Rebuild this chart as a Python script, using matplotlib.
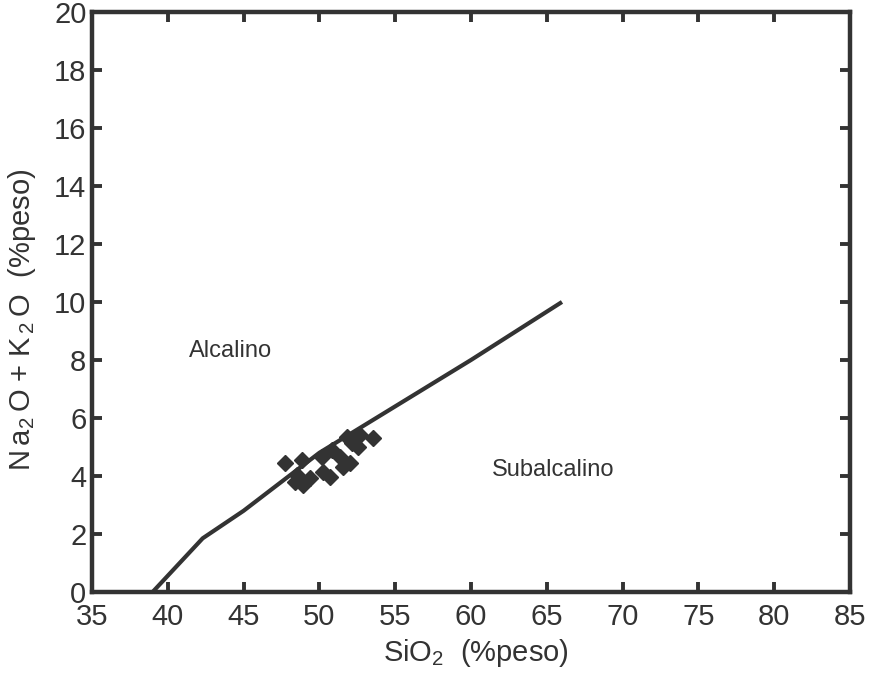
import matplotlib.pyplot as plt

plt.rcParams['font.family'] = ['Liberation Sans', 'DejaVu Sans']
plt.rcParams['mathtext.fontset'] = 'custom'
plt.rcParams['mathtext.rm'] = 'Liberation Sans'

# Irvine & Baragar alkaline / subalkaline divide
divide_sio2 = [39.0, 42.3, 45.0, 48.0, 50.0, 55.0, 60.0, 66.0]
divide_alk = [0.0, 1.85, 2.8, 4.0, 4.8, 6.4, 8.0, 10.0]

# sample analyses
sio2 = [47.73, 48.83, 48.50, 48.94, 48.39, 49.38, 50.15, 50.26, 50.70,
        50.81, 51.36, 51.80, 52.13, 52.02, 52.55, 52.68, 53.54, 51.56]
alk = [4.44, 4.55, 4.03, 3.69, 3.80, 3.93, 4.67, 4.15, 3.98,
       4.90, 4.67, 5.36, 5.13, 4.45, 5.01, 5.41, 5.31, 4.31]

dark = '#333333'

fig = plt.figure(figsize=(8.72, 6.73), dpi=100)
ax = fig.add_axes([0.1055, 0.1204, 0.8693, 0.8618])

ax.plot(divide_sio2, divide_alk, color=dark, lw=3.0, solid_capstyle='butt')
ax.plot(sio2, alk, linestyle='none', marker='D', markersize=8.5,
        color=dark, markeredgecolor=dark)

ax.text(41.4, 8.3, 'Alcalino', fontsize=17, color=dark, va='center', ha='left')
ax.text(61.4, 4.2, 'Subalcalino', fontsize=17, color=dark, va='center', ha='left')

ax.set_xlim(35, 85)
ax.set_ylim(0, 20)
ax.set_xticks(range(35, 90, 5))
ax.set_yticks(range(0, 22, 2))

ax.tick_params(direction='in', length=7, width=2.8, top=True, right=True,
               labelsize=21, colors=dark)
ax.tick_params(axis='x', pad=8)
ax.tick_params(axis='y', pad=4)
for s in ax.spines.values():
    s.set_linewidth(3.2)
    s.set_color(dark)
    s.set_capstyle('projecting')

ax.set_xlabel(r'$\mathregular{SiO_2}$  (%peso)', fontsize=21, color=dark)
ax.set_ylabel(r'$\mathregular{N\,a_2\,O}$ + $\mathregular{K_{\,2}\,O}$  (%peso)',
              fontsize=21, color=dark)
ax.xaxis.set_label_coords(0.507, -0.078)
ax.yaxis.set_label_coords(-0.071, 0.47)

fig.savefig('out.png', dpi=100)
